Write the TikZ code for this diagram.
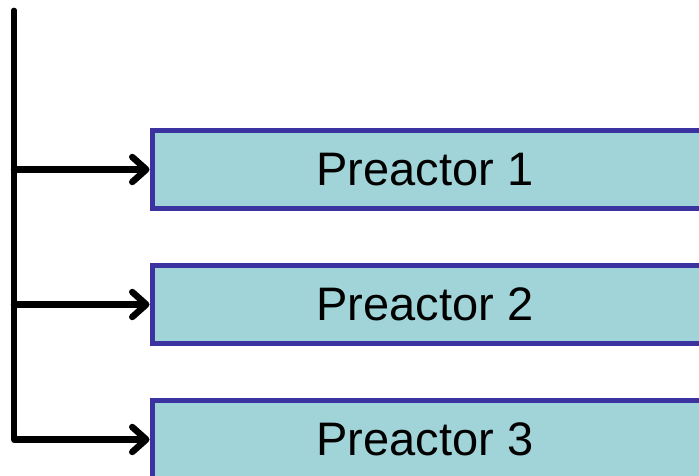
\documentclass[tikz,border=0pt]{standalone}
\usepackage{fontspec}
\setmainfont{Liberation Sans}
\usetikzlibrary{arrows.meta}
\definecolor{boxfill}{HTML}{A0D4D8}
\definecolor{boxline}{HTML}{3A33A0}
\tikzset{
  reactor/.style={draw=boxline, line width=5.5pt, fill=boxfill, minimum width=554pt, minimum height=78pt, anchor=west, inner sep=0pt},
  lbl/.style={font=\fontsize{47}{50}\selectfont},
  feed/.style={line width=6.5pt, line cap=round, line join=round, -{Straight Barb[length=14pt, width=25pt, line width=6.5pt, round]}}
}
\begin{document}
\begin{tikzpicture}[x=1pt, y=-1pt]
\useasboundingbox (0,0) rectangle (699,476);
\node[reactor] (r1) at (149.5,169.5) {};
\node[lbl] (t1) at (425,169.5) {Preactor 1};
\node[reactor] (r2) at (149.5,304.5) {};
\node[lbl] (t2) at (425,304.5) {Preactor 2};
\node[reactor] (r3) at (149.5,439.5) {};
\node[lbl] (t3) at (425,439.5) {Preactor 3};
\coordinate (top) at (14,11);
\coordinate (j1) at (14,169.5);
\coordinate (j2) at (14,304.5);
\coordinate (j3) at (14,439.5);
\draw[line width=6.5pt, line cap=round] (top) -- (j1);
\draw[feed] (top) -- (j3) -- (r3.west);
\draw[feed] (j1) -- (r1.west);
\draw[feed] (j2) -- (r2.west);
\end{tikzpicture}
\end{document}
